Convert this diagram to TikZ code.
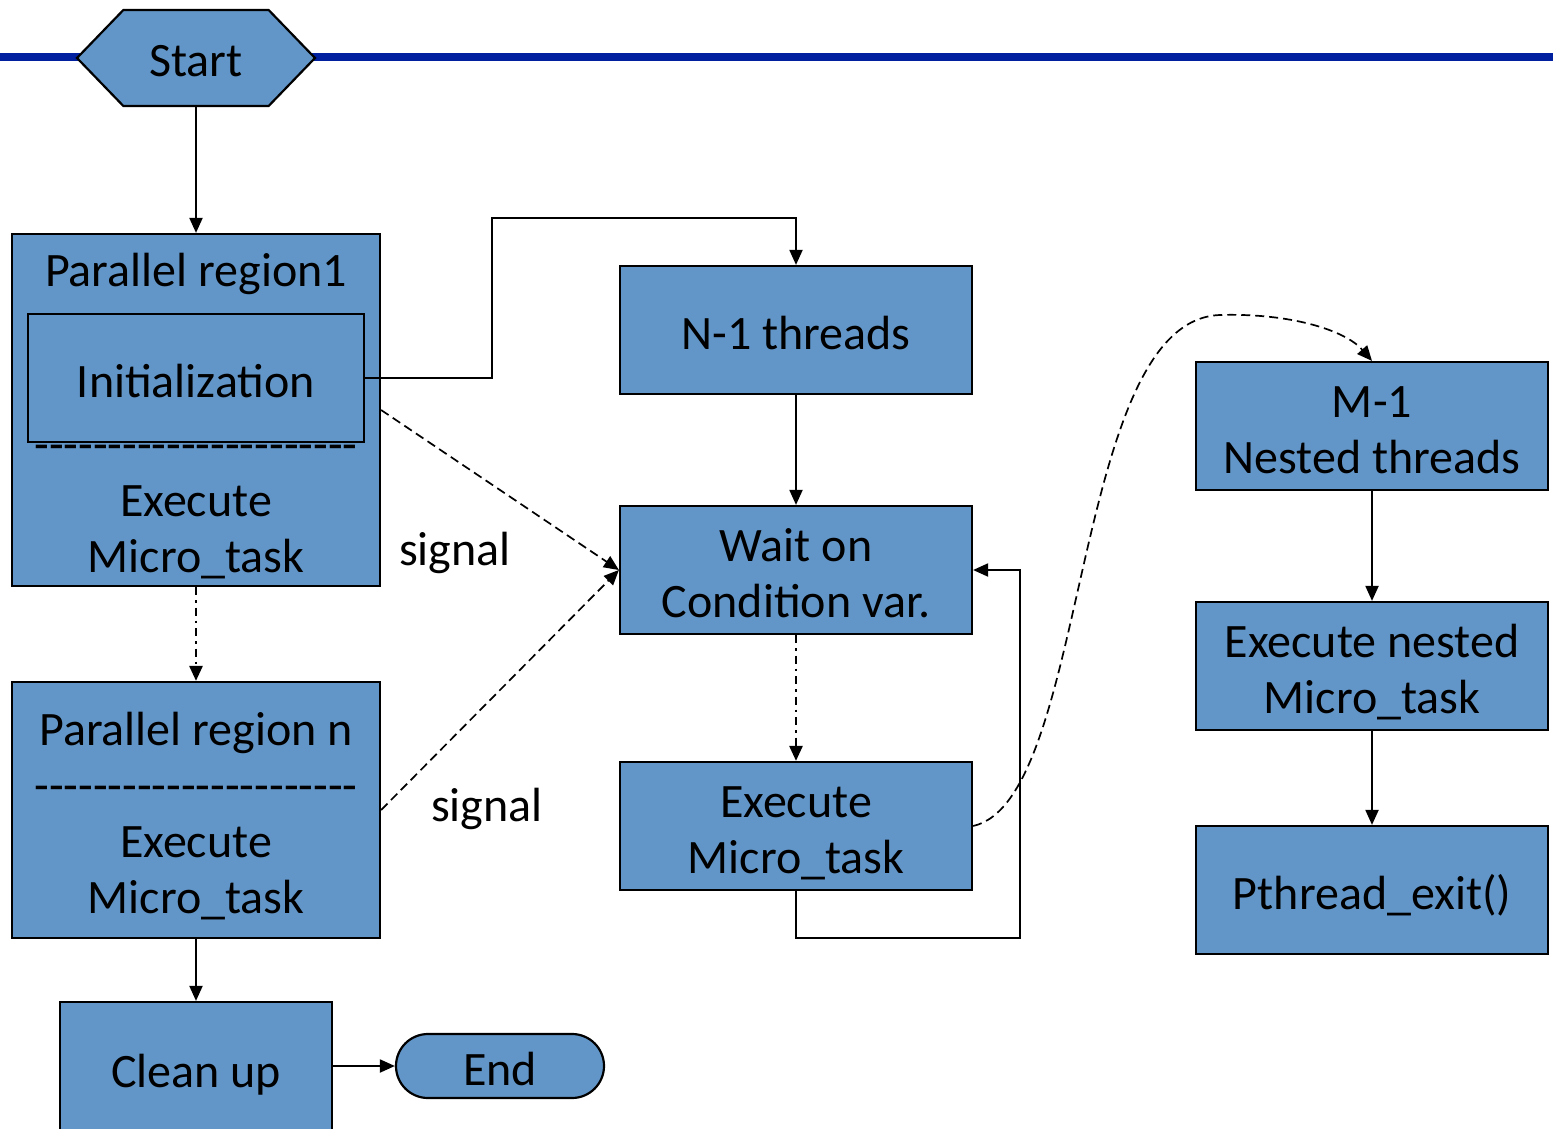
\documentclass[tikz,border=0pt]{standalone}
\usepackage{fontspec}
\setmainfont{Carlito}
\usetikzlibrary{arrows.meta,shapes.misc,shapes.symbols}

\definecolor{boxblue}{RGB}{98,150,200}
\definecolor{barblue}{RGB}{0,32,160}

% a row of plain hyphens (kerns keep them from joining into dashes)
\newcount\hycnt
\newcommand\hyphenrow[1]{\hycnt=0 \loop -\kern0pt\relax\advance\hycnt by 1 \ifnum\hycnt<#1 \repeat}
% fixed height for the first line of a label
\newcommand\topstrut{\rule{0pt}{50pt}}

\tikzset{
  basefont/.style={font=\fontsize{48}{56}\selectfont,
    % fixed line box so every label sits the same way in its frame
    execute at begin node={\topstrut},
    execute at end node={\rule[-12pt]{0pt}{0pt}}},
  flowbox/.style={draw=black, line width=2.2pt, fill=boxblue, inner sep=0pt,
    align=center, basefont},
  plaintext/.style={inner sep=0pt, align=center, basefont},
  arr/.style={line width=2pt, -{Triangle[length=15pt,width=13pt]}},
  dashdotline/.style={line width=2.6pt, dash pattern=on 8pt off 5pt on 2.5pt off 5pt},
  sigline/.style={line width=1.7pt, dash pattern=on 9pt off 5pt},
}

\begin{document}
\begin{tikzpicture}[x=1pt,y=-1pt]
\useasboundingbox (0,0) rectangle (1553,1129);

% top bar
\draw[barblue, line width=8pt] (0,57) -- (1553,57);

% start terminal
\node[flowbox, signal, signal to=west and east, signal pointer angle=92,
      minimum width=238pt, minimum height=96pt] (start) at (196,58) {Start};

% first parallel region
\node[flowbox, minimum width=368pt, minimum height=352pt] (pr1) at (196,410) {};
\node[plaintext] (pr1title) at (196,267) {Parallel region1};
\node[plaintext] (pr1sep) at (196,441) {\hyphenrow{22}};
\node[flowbox, minimum width=336pt, minimum height=128pt] (init) at (196,378) {Initialization};
\node[plaintext] (pr1exec) at (196,525) {\topstrut Execute\\Micro\_task};

% last parallel region
\node[flowbox, minimum width=368pt, minimum height=256pt] (prn) at (196,810)
  {\topstrut Parallel region n\\\hyphenrow{22}\\Execute\\Micro\_task};

% clean up and end
\node[flowbox, minimum width=272pt, minimum height=132pt] (clean) at (196,1068) {Clean up};
\node[flowbox, rounded rectangle, minimum width=208pt, minimum height=64pt] (endn) at (500,1066) {End};

% worker threads
\node[flowbox, minimum width=352pt, minimum height=128pt] (n1) at (796,330) {N-1 threads};
\node[flowbox, minimum width=352pt, minimum height=128pt] (wait) at (796,570) {\topstrut Wait on\\Condition var.};
\node[flowbox, minimum width=352pt, minimum height=128pt] (exec) at (796,826) {\topstrut Execute\\Micro\_task};

% nested threads
\node[flowbox, minimum width=352pt, minimum height=128pt] (m1) at (1372,426) {\topstrut M-1\\Nested threads};
\node[flowbox, minimum width=352pt, minimum height=128pt] (enm) at (1372,666) {\topstrut Execute nested\\Micro\_task};
\node[flowbox, minimum width=352pt, minimum height=128pt] (pex) at (1372,890) {Pthread\_exit()};

% signal labels
\node[plaintext] (sig1) at (455,546) {signal};
\node[plaintext] (sig2) at (487,802) {signal};

% routing points
\coordinate (j1) at (492,218);
\coordinate (loop) at (1020,938);

% connectors
\draw[arr] (start.south) -- (pr1.north);
\draw[arr, dashdotline] (pr1.south) -- (prn.north);
\draw[arr] (prn.south) -- (clean.north);
\draw[arr] (clean.east |- endn.west) -- (endn.west);
\draw[arr] (init.east) -| (j1) -| (n1.north);
\draw[arr] (n1.south) -- (wait.north);
\draw[arr, dashdotline] (wait.south) -- (exec.north);
\draw[arr] (exec.south) |- (loop) |- (wait.east);
\draw[arr, sigline] (pr1.east) -- (wait.west);
\draw[arr, sigline] (prn.east) -- (wait.west);
\draw[arr, sigline] (exec.east) .. controls (1090,800) and (1070,320) .. (1220,315)
  .. controls (1290,313) and (1345,330) .. (m1.north);
\draw[arr] (m1.south) -- (enm.north);
\draw[arr] (enm.south) -- (pex.north);
\end{tikzpicture}
\end{document}
